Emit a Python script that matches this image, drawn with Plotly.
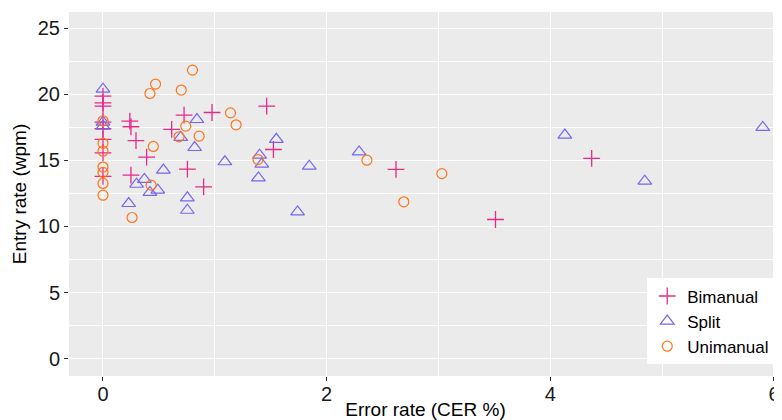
import plotly.graph_objects as go

# Bimanual
bi_x = [0, 0, 0, 0, 0, 0, 0, 0,
        0.24, 0.25, 0.295, 0.39, 0.25, 0.614, 0.725, 0.755, 0.90, 0.975,
        1.464, 1.524, 2.62, 3.51, 4.37]
bi_y = [19.87, 19.36, 19.11, 17.9, 17.4, 16.6, 15.58, 13.8,
        17.98, 17.55, 16.5, 15.25, 13.89, 17.35, 18.43, 14.34, 13.0, 18.63,
        19.11, 15.83, 14.32, 10.53, 15.15]

# Split
sp_x = [0, 0, 0,
        0.54, 0.30, 0.37, 0.42, 0.49, 0.23, 0.754, 0.754, 1.09,
        0.84, 0.695, 0.82, 1.55, 1.40, 1.42, 1.39, 1.845, 1.74,
        2.29, 4.13, 4.845, 5.90]
sp_y = [20.4, 17.9, 17.6,
        14.27, 13.2, 13.56, 12.58, 12.75, 11.74, 12.17, 11.23, 14.9,
        18.1, 16.74, 15.98, 16.6, 15.4, 14.72, 13.68, 14.57, 11.1,
        15.65, 16.92, 13.43, 17.5]

# Unimanual
un_x = [0, 0, 0, 0, 0, 0, 0,
        0.80, 0.47, 0.42, 0.70, 1.14, 1.19, 0.74, 0.68, 0.86, 0.45,
        1.386, 0.43, 0.26, 2.36, 3.03, 2.69]
un_y = [18.0, 16.3, 15.7, 14.5, 14.1, 13.26, 12.37,
        21.84, 20.78, 20.07, 20.33, 18.6, 17.7, 17.6, 16.79, 16.84, 16.06,
        15.07, 13.13, 10.68, 15.02, 14.0, 11.87]

x_ticks = [0, 2, 4, 6]
y_ticks = [0, 5, 10, 15, 20, 25]

FONT = "Liberation Sans, Arial, sans-serif"

fig = go.Figure()
fig.add_trace(go.Scatter(
    x=bi_x, y=bi_y, mode="markers", name="Bimanual", legendgroup="a",
    marker=dict(symbol="cross-thin-open", size=12, color="#E7298A",
                line=dict(color="#E7298A", width=1.3))))
fig.add_trace(go.Scatter(
    x=sp_x, y=sp_y, mode="markers", name="Split", legendgroup="b",
    marker=dict(symbol="triangle-up-open", size=12, color="#7767F0",
                line=dict(color="#7767F0", width=1.2))))
fig.add_trace(go.Scatter(
    x=un_x, y=un_y, mode="markers", name="Unimanual", legendgroup="c",
    marker=dict(symbol="circle-open", size=10, color="#FF7518",
                line=dict(color="#FF7518", width=1.2))))

axis_common = dict(
    showgrid=True, gridcolor="white", gridwidth=1.2, zeroline=False,
    ticks="outside", ticklen=4, tickwidth=1, tickcolor="#333333",
    tickfont=dict(family=FONT, size=20, color="#1a1a1a"),
    showline=False, automargin=False,
)

# page has an 8px body margin; figure sized to fit the 782x420 window
fig.update_layout(
    width=774, height=412,
    margin=dict(l=61, r=0, t=4, b=44),
    paper_bgcolor="white", plot_bgcolor="#EBEBEB",
    font=dict(family=FONT),
    xaxis=dict(range=[-0.304, 6.072], tickvals=x_ticks,
               title=dict(text="Error rate (CER %)", font=dict(family=FONT, size=19, color="#000"), standoff=2),
               minor=dict(showgrid=True, gridcolor="white", gridwidth=0.6, dtick=1, tick0=0, ticks=""),
               ticklabelstandoff=-4,
               **axis_common),
    yaxis=dict(range=[-1.32, 26.24], tickvals=y_ticks,
               title=dict(text="Entry rate (wpm)", font=dict(family=FONT, size=19, color="#000"), standoff=6),
               minor=dict(showgrid=True, gridcolor="white", gridwidth=0.6, dtick=2.5, tick0=0, ticks=""),
               **axis_common),
    legend=dict(x=0.811, y=0.268, xanchor="left", yanchor="top",
                bgcolor="white", borderwidth=0,
                font=dict(family=FONT, size=17, color="#000"),
                tracegroupgap=0, traceorder="grouped"),
)

fig.write_html("out.html")
